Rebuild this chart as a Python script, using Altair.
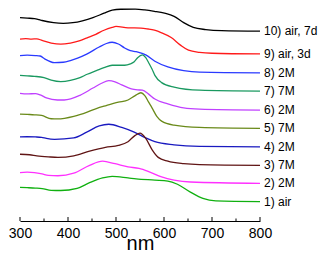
import altair as alt
import pandas as pd

# ---- data (absorbance in arbitrary offset units) ----
labels = ["10) air, 7d", "9) air, 3d", "8) 2M", "7) 7M", "6) 2M",
          "5) 7M", "4) 2M", "3) 7M", "2) 2M", "1) air"]
colors = ["#000000", "#FF1A1A", "#2A3AFF", "#1A9960", "#C040FF",
          "#6A8A1A", "#1A1AC0", "#601515", "#FF30FF", "#10B010"]

nm10 = [300, 315, 330, 340, 346, 370, 390, 410, 430, 452, 475, 492, 510, 540, 560, 580, 601, 621, 641, 661, 687, 720, 800]
a10 = [214.8, 214.3, 213.8, 212.6, 211.8, 209.5, 208.8, 209.5, 211.5, 214.8, 219.5, 222.8, 223.7, 223.8, 223.0, 221.5, 219.5, 216.2, 209.5, 204.5, 202.2, 201.0, 200.5]

nm9 = [300, 312, 324, 335, 346, 365, 385, 405, 425, 440, 458, 475, 492, 500, 525, 552, 567, 580, 595, 615, 635, 651, 674, 700, 800]
a9 = [192.2, 192.7, 192.2, 192.4, 190.8, 188.0, 186.8, 188.0, 190.5, 193.5, 197.2, 201.5, 204.5, 205.5, 204.0, 203.8, 202.8, 201.5, 198.8, 193.8, 185.5, 180.5, 178.2, 177.2, 176.5]

nm8 = [300, 315, 332, 342, 352, 372, 390, 405, 420, 439, 465, 480, 492, 505, 518, 530, 542, 562, 581, 608, 641, 674, 800]
a8 = [174.8, 175.2, 174.8, 174.3, 171.0, 167.2, 167.7, 169.5, 172.0, 176.2, 183.8, 187.5, 188.8, 187.0, 182.8, 180.0, 178.8, 175.5, 168.8, 162.8, 158.8, 157.2, 156.5]

nm7 = [300, 315, 330, 350, 365, 385, 405, 425, 440, 459, 475, 492, 518, 530, 538, 545, 555, 562, 568, 575, 581, 595, 621, 674, 800]
a7 = [153.8, 153.3, 152.8, 151.5, 148.8, 147.2, 148.5, 151.5, 155.0, 158.8, 162.0, 164.5, 164.5, 166.0, 168.2, 172.5, 175.5, 172.5, 167.2, 160.5, 153.8, 146.2, 141.5, 138.2, 137.2]

nm6 = [300, 315, 332, 342, 355, 378, 392, 425, 452, 470, 485, 498, 512, 532, 545, 555, 568, 581, 608, 641, 674, 800]
a6 = [134.8, 134.2, 134.6, 133.2, 130.0, 127.8, 127.8, 132.8, 140.5, 145.5, 148.2, 147.0, 143.8, 139.5, 138.5, 138.2, 134.0, 128.8, 123.8, 119.5, 118.2, 117.2]

nm5 = [300, 315, 330, 345, 365, 378, 412, 440, 459, 480, 505, 525, 540, 552, 560, 568, 575, 585, 595, 621, 674, 800]
a5 = [113.0, 112.6, 112.2, 111.5, 108.0, 107.8, 110.5, 115.0, 118.8, 122.0, 125.5, 127.8, 132.5, 135.5, 132.5, 125.5, 119.5, 110.5, 105.5, 101.2, 98.8, 97.8]

nm4 = [300, 315, 332, 345, 355, 372, 412, 439, 465, 485, 512, 538, 562, 581, 621, 674, 800]
a4 = [88.8, 89.0, 88.8, 88.4, 87.2, 86.3, 87.8, 93.8, 100.5, 102.2, 98.8, 93.8, 87.8, 83.8, 80.5, 78.8, 78.2]

nm3 = [300, 320, 335, 359, 379, 412, 445, 478, 505, 525, 540, 550, 562, 575, 588, 608, 641, 674, 800]
a3 = [70.5, 70.0, 68.9, 67.8, 67.2, 68.8, 73.8, 77.8, 79.8, 83.8, 90.5, 92.8, 87.2, 75.5, 67.2, 63.2, 60.5, 59.5, 58.8]

nm2 = [300, 315, 330, 346, 359, 379, 412, 445, 472, 498, 525, 548, 568, 595, 621, 655, 800]
a2 = [51.2, 51.6, 51.2, 49.8, 48.2, 47.8, 50.5, 58.8, 63.2, 60.5, 57.2, 55.5, 52.2, 46.5, 43.2, 41.2, 39.8]

nm1 = [300, 315, 332, 346, 365, 385, 419, 445, 472, 492, 525, 542, 581, 608, 628, 655, 681, 708, 800]
a1 = [35.5, 35.2, 34.8, 34.3, 32.4, 32.2, 34.5, 40.5, 45.5, 47.2, 45.5, 44.5, 43.2, 42.2, 38.8, 30.5, 23.8, 21.2, 20.5]

major_ticks = [300, 400, 500, 600, 700, 800]
minor_ticks = [350, 450, 550, 650, 750]

series_nm = [nm10, nm9, nm8, nm7, nm6, nm5, nm4, nm3, nm2, nm1]
series_a = [a10, a9, a8, a7, a6, a5, a4, a3, a2, a1]

rows = []
for lab, xs, ys in zip(labels, series_nm, series_a):
    for x, y in zip(xs, ys):
        rows.append({"series": lab, "nm": x, "A": y})
df = pd.DataFrame(rows)

lab_df = pd.DataFrame({
    "series": labels,
    "nm": [xs[-1] for xs in series_nm],
    "A": [ys[-1] for ys in series_a],
})

W, H = 240, 213
FONT = "Arial, Liberation Sans, sans-serif"

xscale = alt.Scale(domain=[300, 800], nice=False, zero=False)
yscale = alt.Scale(domain=[0, 225], nice=False, zero=False)

lines = alt.Chart(df).mark_line(strokeWidth=1.3, clip=False, interpolate="monotone").encode(
    x=alt.X("nm:Q", scale=xscale,
            axis=alt.Axis(values=major_ticks, title="nm", ticks=False, grid=False,
                          domainColor="black", domainWidth=1,
                          labelFontSize=14, labelColor="black", labelFont=FONT,
                          labelPadding=5, labelFlush=False,
                          titleFontSize=20, titleFont=FONT, titleFontWeight="normal",
                          titleColor="black", titleY=28, titleBaseline="alphabetic")),
    y=alt.Y("A:Q", scale=yscale, axis=None),
    color=alt.Color("series:N", scale=alt.Scale(domain=labels, range=colors), legend=None),
    detail="series:N",
)

major = alt.Chart(pd.DataFrame({"nm": major_ticks})).mark_rule(color="black", strokeWidth=1).encode(
    x=alt.X("nm:Q", scale=xscale), y=alt.value(H), y2=alt.value(H - 4))
minor = alt.Chart(pd.DataFrame({"nm": minor_ticks})).mark_rule(color="black", strokeWidth=1).encode(
    x=alt.X("nm:Q", scale=xscale), y=alt.value(H), y2=alt.value(H - 2.5))

texts = alt.Chart(lab_df).mark_text(align="left", baseline="middle", dx=4, fontSize=12,
                                     font=FONT, color="black", clip=False).encode(
    x=alt.X("nm:Q", scale=xscale),
    y=alt.Y("A:Q", scale=yscale),
    text="series:N",
)

chart = alt.layer(lines, major, minor, texts).properties(
    width=W, height=H,
    autosize=alt.AutoSizeParams(type="none"),
    padding={"left": 12, "top": 0, "right": 59, "bottom": 33},
).configure_view(stroke=None)

chart.save("out.html", embed_options={"renderer": "svg", "actions": False})
